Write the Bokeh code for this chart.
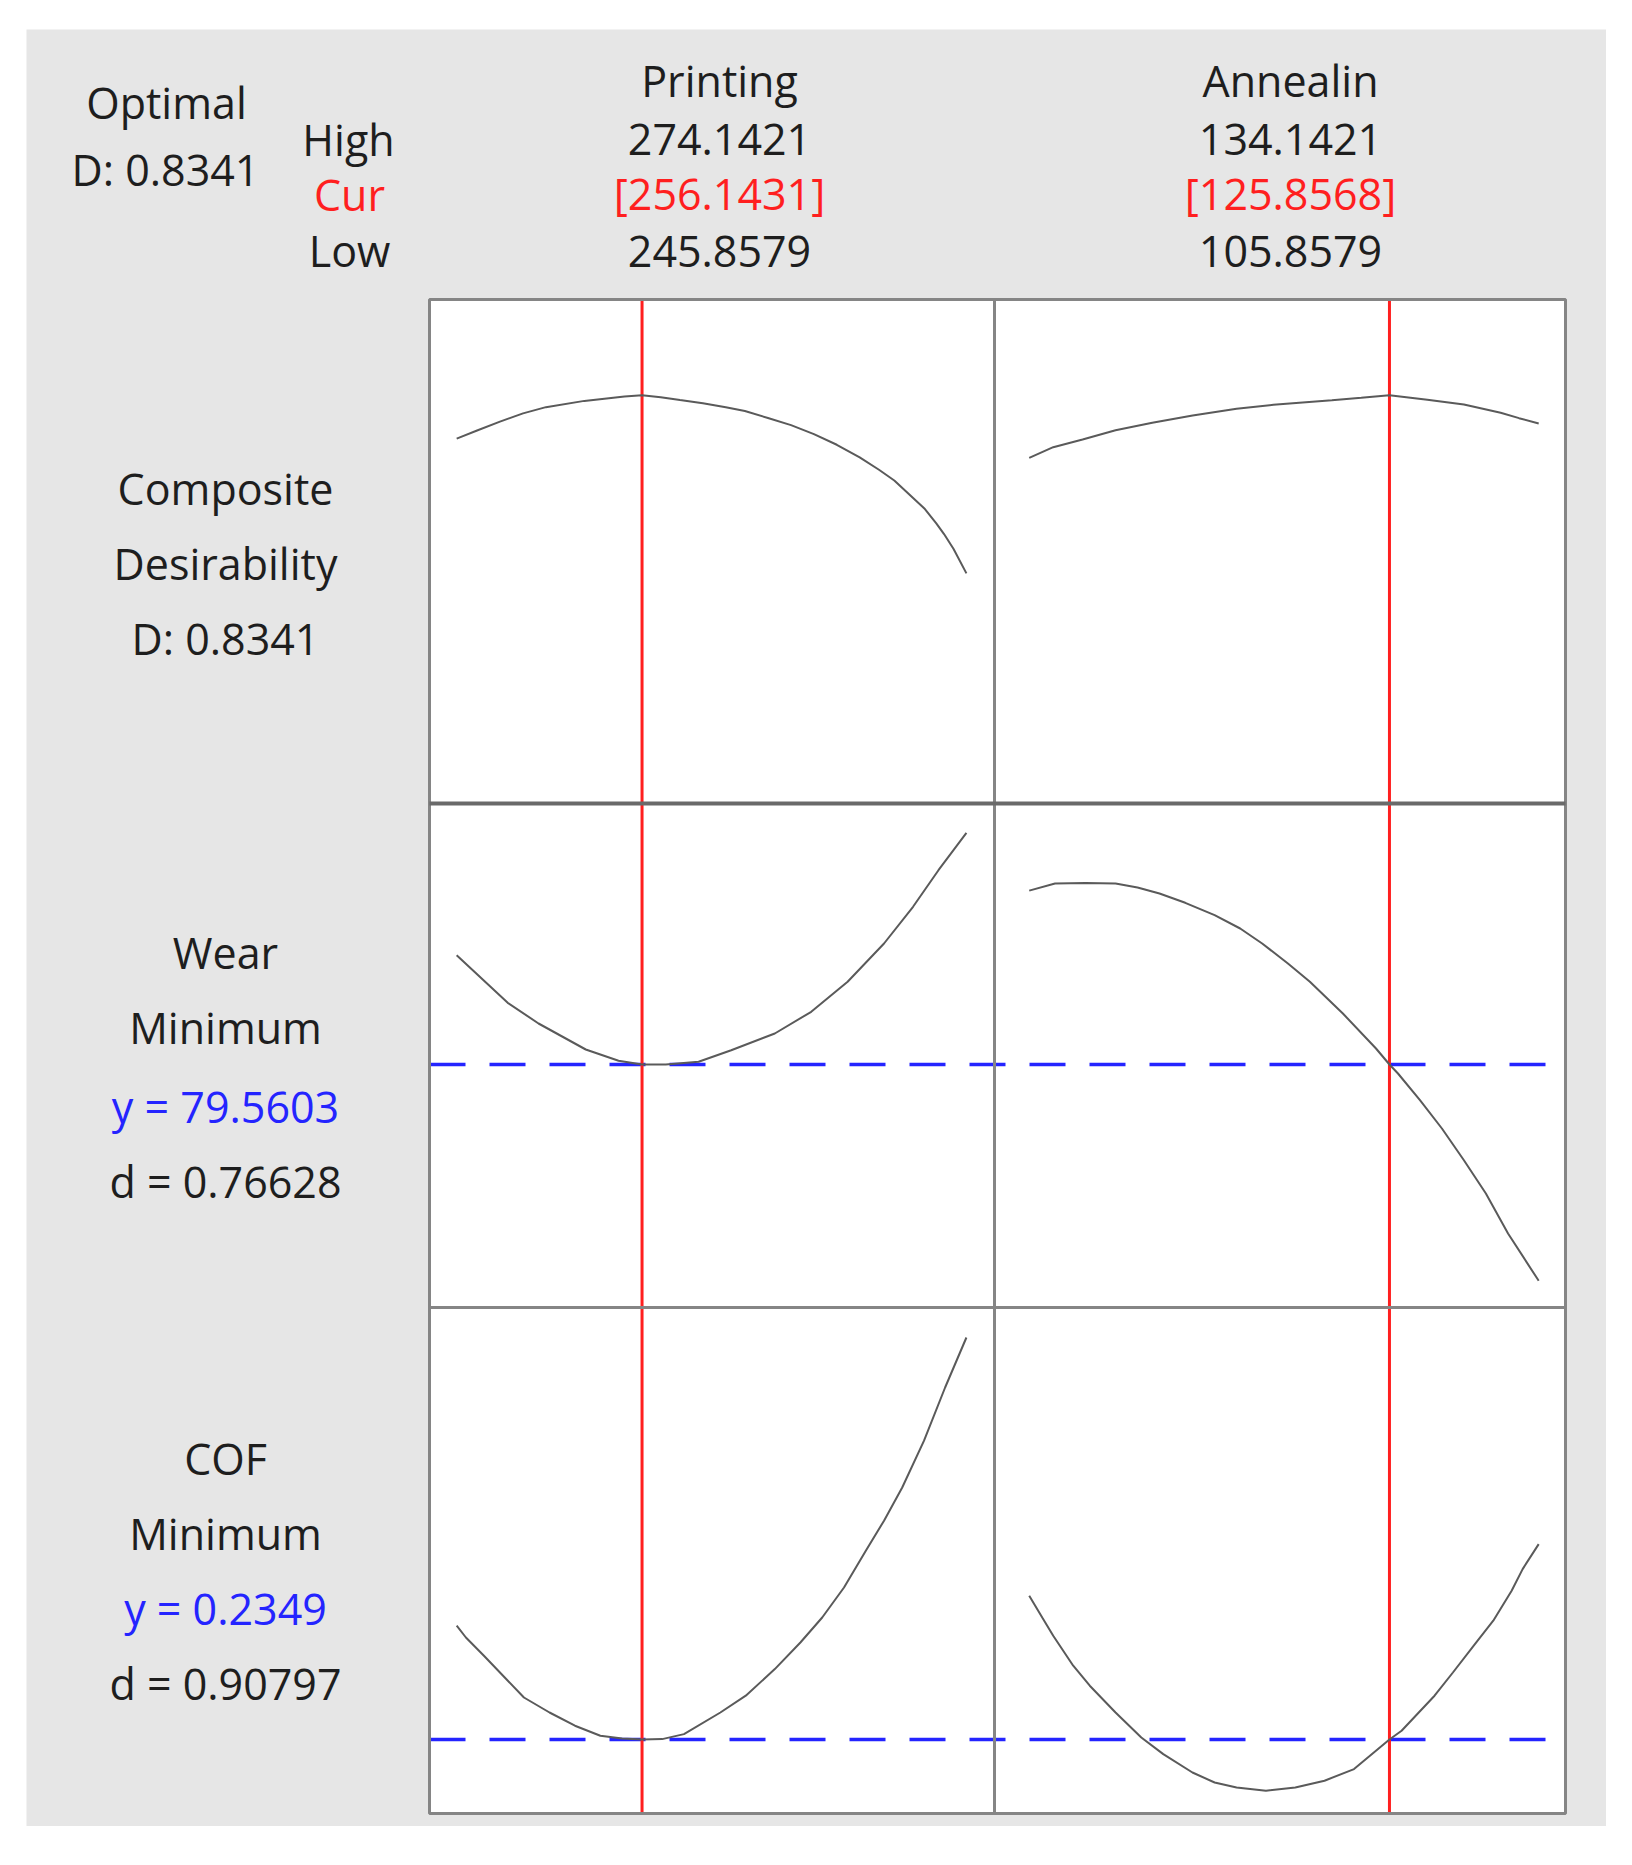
from bokeh.plotting import figure
from bokeh.models import Range1d
from bokeh.embed import file_html
from bokeh.resources import INLINE
from bokeh.core.properties import value

# ---------------- data ----------------
factor_names = ["Printing", "Annealin"]
factor_high = [274.1421, 134.1421]
factor_cur = [256.1431, 125.8568]
factor_low = [245.8579, 105.8579]

optimal_D = 0.8341
wear_y, wear_d = 79.5603, 0.76628
cof_y, cof_d = 0.2349, 0.90797

# Composite desirability curves
comp_print_x = [245.8579, 246.99, 248.26, 249.54, 250.81, 252.94, 255.17, 256.1431, 257.18,
                258.25, 259.52, 260.79, 261.85, 263.13, 264.41, 265.68, 266.95, 268.22,
                269.29, 270.14, 270.99, 271.84, 272.47, 272.90, 273.43, 274.1421]
comp_print_y = [0.7456, 0.7623, 0.7805, 0.7973, 0.8100, 0.8228, 0.8316, 0.8341, 0.8302,
                0.8245, 0.8180, 0.8097, 0.8020, 0.7879, 0.7733, 0.7550, 0.7331, 0.7075,
                0.6820, 0.6601, 0.6309, 0.6017, 0.5725, 0.5506, 0.5200, 0.4703]
comp_anneal_x = [105.8579, 107.19, 108.82, 110.65, 112.69, 114.93, 117.37, 119.41, 122.66,
                 124.29, 125.8568, 127.96, 129.99, 132.03, 133.05, 134.1421]
comp_anneal_y = [0.7065, 0.7282, 0.7439, 0.7629, 0.7780, 0.7930, 0.8066, 0.8148, 0.8242,
                 0.8291, 0.8341, 0.8250, 0.8155, 0.7985, 0.7875, 0.7766]

# Wear curves
wear_print_x = [245.8579, 248.69, 250.40, 253.02, 254.84, 256.1431, 257.46, 259.28, 261.09,
                263.51, 265.53, 267.55, 269.57, 271.18, 272.59, 274.1421]
wear_print_y = [90.49, 85.73, 83.66, 81.06, 79.93, 79.5603, 79.57, 79.83, 80.99,
                82.66, 84.83, 87.83, 91.66, 95.33, 98.99, 102.73]
wear_anneal_x = [105.8579, 107.29, 108.98, 110.65, 111.87, 113.09, 114.52, 116.15, 117.57,
                 118.79, 120.22, 121.44, 123.27, 125.11, 125.8568, 126.33, 127.55, 128.77,
                 129.99, 131.21, 132.44, 134.1421]
wear_anneal_y = [96.95, 97.66, 97.71, 97.66, 97.26, 96.66, 95.73, 94.49, 93.16,
                 91.66, 89.66, 87.83, 84.66, 81.16, 79.5603, 78.66, 75.99, 73.16,
                 69.99, 66.66, 62.66, 57.93]

# COF curves
cof_print_x = [245.8579, 246.37, 247.37, 249.59, 251.01, 252.42, 253.83, 255.04, 256.1431,
               257.26, 258.47, 260.49, 261.90, 263.51, 264.93, 266.14, 267.35, 268.56,
               269.57, 270.58, 271.79, 272.96, 274.1421]
cof_print_y = [0.2918, 0.2859, 0.2768, 0.2559, 0.2484, 0.2418, 0.2368, 0.2354, 0.2349,
               0.2351, 0.2376, 0.2484, 0.2568, 0.2701, 0.2834, 0.2959, 0.3109, 0.3293,
               0.3443, 0.3609, 0.3843, 0.4109, 0.4359]
cof_anneal_x = [105.8579, 106.58, 107.19, 108.30, 109.22, 110.65, 112.08, 113.30, 114.92,
                116.15, 117.37, 119.00, 120.63, 122.25, 123.89, 125.8568, 126.53, 128.36,
                129.38, 130.60, 131.62, 132.64, 133.25, 134.1421]
cof_anneal_y = [0.3068, 0.2959, 0.2868, 0.2718, 0.2618, 0.2484, 0.2359, 0.2276, 0.2184,
                0.2134, 0.2109, 0.2093, 0.2109, 0.2143, 0.2201, 0.2349, 0.2393, 0.2568,
                0.2684, 0.2826, 0.2943, 0.3093, 0.3201, 0.3326]

# axis ranges of each factor column / response row (data units)
x_ranges = [(244.35, 275.70), (103.93, 135.63)]
y_ranges = [(0.0, 1.03), (55.26, 105.66), (0.1979, 0.4509)]

# ---------------- style / layout (page pixels) ----------------
BG = "#e6e6e6"
BORDER = "#858585"
DIVIDER = "#6a6a6a"
FONT = "Open Sans"
FS = "43px"
INK = "#1e1e1e"
RED = "#ff1f1f"
BLUE = "#2424ff"
CURVE = "#5a5a5a"

PX_L, PX_R, PX_T, PX_B = 0, 1606, 0, 1826       # figure extent on the page
GRAY_L, GRAY_T = 26, 29                          # grey panel origin
COL_X = [429, 994, 1565]                         # panel column edges
ROW_Y = [299, 803, 1307, 1813]                   # panel row edges

p = figure(width=PX_R - PX_L, height=PX_B - PX_T,
           x_range=Range1d(PX_L, PX_R), y_range=Range1d(PX_B, PX_T),
           x_axis_location=None, y_axis_location=None, toolbar_location=None,
           output_backend="svg", min_border=0)
p.grid.visible = False
p.outline_line_color = None
p.background_fill_color = "white"
p.border_fill_color = "white"

# grey background and white plotting area
p.quad(left=[GRAY_L], right=[PX_R], top=[GRAY_T], bottom=[PX_B], fill_color=BG, line_color=None)
p.quad(left=[COL_X[0]], right=[COL_X[2]], top=[ROW_Y[0]], bottom=[ROW_Y[3]],
       fill_color="white", line_color=None)

# per-column / per-row scales placed into the panel cells
xr = {}
for c in range(2):
    L, R = COL_X[c], COL_X[c + 1]
    lo, hi = x_ranges[c]
    k = (R - L) / (hi - lo)
    xr["x%d" % c] = Range1d(lo - (L - PX_L) / k, hi + (PX_R - R) / k)
yr = {}
for r in range(3):
    T, B = ROW_Y[r], ROW_Y[r + 1]
    lo, hi = y_ranges[r]
    k = (B - T) / (hi - lo)
    yr["y%d" % r] = Range1d(lo - (PX_B - B) / k, hi + (T - PX_T) / k)
p.extra_x_ranges = xr
p.extra_y_ranges = yr

curves = [
    [(comp_print_x, comp_print_y), (comp_anneal_x, comp_anneal_y)],
    [(wear_print_x, wear_print_y), (wear_anneal_x, wear_anneal_y)],
    [(cof_print_x, cof_print_y), (cof_anneal_x, cof_anneal_y)],
]
targets = [None, wear_y, cof_y]
dash_offset = [0, 25]

for r in range(3):
    for c in range(2):
        xn, yn = "x%d" % c, "y%d" % r
        if targets[r] is not None:
            p.segment(x0=[x_ranges[c][0]], y0=[targets[r]], x1=[x_ranges[c][1]], y1=[targets[r]],
                      x_range_name=xn, y_range_name=yn, line_color=BLUE, line_width=3.5,
                      line_dash="36 24", line_dash_offset=dash_offset[c])
        p.segment(x0=[factor_cur[c]], y0=[y_ranges[r][0]], x1=[factor_cur[c]], y1=[y_ranges[r][1]],
                  x_range_name=xn, y_range_name=yn, line_color=RED, line_width=3)
        xs, ys = curves[r][c]
        p.line(xs, ys, x_range_name=xn, y_range_name=yn, line_color=CURVE, line_width=2)

# panel frame lines
p.quad(left=[COL_X[0]], right=[COL_X[2]], top=[ROW_Y[0]], bottom=[ROW_Y[3]],
       fill_color=None, line_color=BORDER, line_width=3)
p.segment(x0=[COL_X[1]], y0=[ROW_Y[0]], x1=[COL_X[1]], y1=[ROW_Y[3]], line_color=BORDER, line_width=3)
p.segment(x0=[COL_X[0]], y0=[ROW_Y[2]], x1=[COL_X[2]], y1=[ROW_Y[2]], line_color=BORDER, line_width=3)
p.segment(x0=[COL_X[0]], y0=[ROW_Y[1]], x1=[COL_X[2]], y1=[ROW_Y[1]], line_color=DIVIDER, line_width=4)

# ---------------- texts ----------------
def add_text(x, y, s, color=INK):
    p.text(x=[x], y=[y], text=[s], text_font=value(FONT), text_font_size=FS,
           text_color=color, text_align="center", text_baseline="middle")

add_text(166, 102, "Optimal")
add_text(165, 169, "D: %.4f" % optimal_D)
add_text(348, 139, "High")
add_text(349, 194, "Cur", RED)
add_text(349, 250, "Low")

col_cx = [719, 1290]
for c in range(2):
    add_text(col_cx[c], 80, factor_names[c])
    add_text(col_cx[c], 139, "%.4f" % factor_high[c])
    add_text(col_cx[c], 193, "[%.4f]" % factor_cur[c], RED)
    add_text(col_cx[c], 251, "%.4f" % factor_low[c])

LBL_X = 225
left_labels = [
    ("Composite", 488, INK), ("Desirability", 563, INK), ("D: %.4f" % optimal_D, 638, INK),
    ("Wear", 952, INK), ("Minimum", 1027, INK), ("y = %.4f" % wear_y, 1106, BLUE),
    ("d = %.5f" % wear_d, 1181, INK),
    ("COF", 1458, INK), ("Minimum", 1533, INK), ("y = %.4f" % cof_y, 1608, BLUE),
    ("d = %.5f" % cof_d, 1683, INK),
]
for s, yc, col in left_labels:
    add_text(LBL_X, yc, s, col)

open("out.html", "w").write(file_html(p, INLINE))
